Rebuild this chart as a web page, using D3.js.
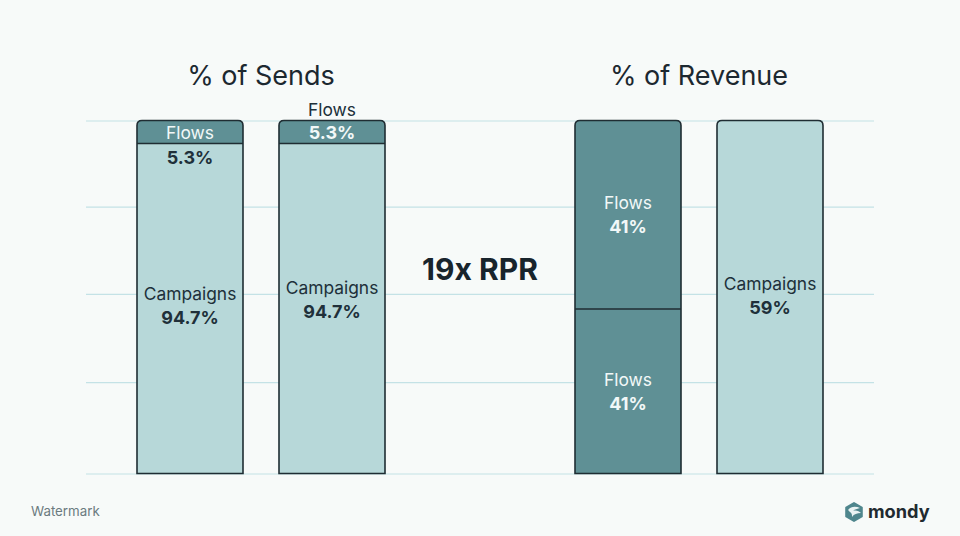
<!DOCTYPE html>
<html><head><meta charset="utf-8">
<script src="https://cdn.jsdelivr.net/npm/d3@7"></script>
<style>html,body{margin:0;padding:0;background:#f7faf9}svg{display:block}text{font-family:Inter,sans-serif}</style>
</head><body><svg id="c" width="960" height="536"></svg>
<script>
const bars = ["s1","s2","r1","r2"];
// drawn boundaries, bottom to top, on a 0-100 axis
const lowerValues = [93.5, 93.5, 46.6, 100];
const lowerKinds = ["Campaigns","Campaigns","Flows","Campaigns"];
const upperKinds = ["Flows","Flows","Flows",null];
const lowerLabels = ["94.7%","94.7%","41%","59%"];
const upperLabels = ["5.3%","5.3%","41%",null];
const gridValues = [0,25.9,50.9,75.6,100];
const titles = ["% of Sends","% of Revenue"];
const centerNote = "19x RPR";

const svg = d3.select("#c");
const colors = {Flows:"#5f9095",Campaigns:"#b7d8d9"};
const ink = "#1f2d33";
const xPos = d3.scaleOrdinal().domain(bars).range([137,279,575,717]);
const bw = 106;
const y = d3.scaleLinear().domain([0,100]).range([473.5,120.5]);

svg.append("g").attr("transform","translate(86,0)").call(g=>{
  g.call(d3.axisRight(y).tickValues(gridValues).tickSize(788).tickFormat(""));
  g.select(".domain").remove();
  g.selectAll("line").attr("stroke","#c4e2e6").attr("stroke-width",1.2);
});

function roundedPath(x0,y0,w,h,rt){
  return `M${x0},${y0+h}V${y0+rt}Q${x0},${y0} ${x0+rt},${y0}H${x0+w-rt}Q${x0+w},${y0} ${x0+w},${y0+rt}V${y0+h}Z`;
}
bars.forEach((b,i)=>{
  const g = svg.append("g");
  const X = xPos(b), yb = y(lowerValues[i]), y0=y(0), yt=y(100);
  g.append("rect").attr("x",X).attr("y",yb).attr("width",bw).attr("height",y0-yb)
    .attr("fill",colors[lowerKinds[i]]);
  if(upperKinds[i]){
    g.append("path").attr("d",roundedPath(X,yt,bw,yb-yt,5)).attr("fill",colors[upperKinds[i]]);
    g.append("line").attr("x1",X).attr("x2",X+bw).attr("y1",yb).attr("y2",yb).attr("stroke",ink).attr("stroke-width",1.6);
  }
  g.append("path").attr("d",roundedPath(X,yt,bw,y0-yt,5)).attr("fill",upperKinds[i]?"none":colors.Campaigns).attr("stroke",ink).attr("stroke-width",1.6);
});

function label(t,cx,cy,size,weight,fill){
  svg.append("text").attr("x",cx).attr("y",cy).attr("text-anchor","middle").attr("dominant-baseline","central")
   .attr("font-size",size).attr("font-weight",weight).attr("fill",fill).text(t);
}
const mid = b=>xPos(b)+bw/2;
const dark="#20303a", white="#f2f8f8";
const lab=17.4, val=18;
// bar 1
label(upperKinds[0],mid("s1"),132.5,lab,400,white);
label(upperLabels[0],mid("s1"),157,val,700,dark);
label(lowerKinds[0],mid("s1"),293.5,lab,400,dark);
label(lowerLabels[0],mid("s1"),317,val,700,dark);
// bar 2
label(upperKinds[1],mid("s2"),109.5,lab,400,dark);
label(upperLabels[1],mid("s2"),132.5,val,700,white);
label(lowerKinds[1],mid("s2"),287.5,lab,400,dark);
label(lowerLabels[1],mid("s2"),311,val,700,dark);
// bar 3
label(upperKinds[2],mid("r1"),202.5,lab,400,white);
label(upperLabels[2],mid("r1"),226,val,700,white);
label(lowerKinds[2],mid("r1"),379,lab,400,white);
label(lowerLabels[2],mid("r1"),403,val,700,white);
// bar 4
label(lowerKinds[3],mid("r2"),283.5,lab,400,dark);
label(lowerLabels[3],mid("r2"),307,val,700,dark);

label(titles[0],261,75,27,400,"#1c2830");
label(titles[1],699,75,27,400,"#1c2830");
label(centerNote,480,269,30,700,"#18242c");

svg.append("text").attr("x",31).attr("y",515.5).attr("font-size",13.3).attr("fill","#6b7a80").text("Watermark");

// logo
const lg = svg.append("g").attr("transform","translate(854,512)");
lg.append("path").attr("d",d3.range(6).map(i=>{const a=Math.PI/3*i+Math.PI/6;return (i?"L":"M")+(9*Math.cos(a)).toFixed(2)+","+(9*Math.sin(a)).toFixed(2)}).join("")+"Z")
  .attr("fill","#4f868d").attr("stroke","#4f868d").attr("stroke-width",2).attr("stroke-linejoin","round");
lg.append("path").attr("d","M-6,-2C-3,-6 2,-6 6,-4C3,-3 1,-3 -1,-1C2,-2 5,-1 7,1C3,1 0,2 -2,5C-2,3 -2,1 -4,0C-5,-1 -5,-1 -6,-2Z").attr("fill","#eaf3f3");
svg.append("text").attr("x",868).attr("y",518).attr("font-size",18.2).attr("font-weight",700).attr("fill","#1f2a30").text("mondy");
</script></body></html>
